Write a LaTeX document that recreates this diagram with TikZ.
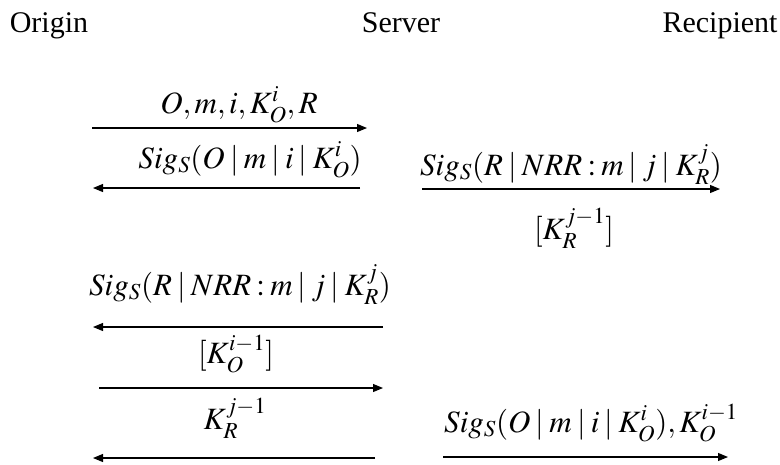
\documentclass[tikz,border=0pt]{standalone}
\usepackage{mathptmx}
\usepackage[no-math]{fontspec}
\setmainfont{Liberation Serif}
\usetikzlibrary{arrows.meta}
\newcommand{\vb}{\mkern3mu|\mkern3mu}
\newcommand{\cln}{\mkern3mu{:}\mkern3mu}
\tikzset{
  lbl/.style={font=\fontsize{31}{36}\selectfont, inner sep=0pt, anchor=base},
  party/.style={font=\fontsize{30}{36}\selectfont, inner sep=0pt, anchor=base},
  msg/.style={line width=1.1pt, -{Triangle[length=10pt,width=8pt]}}
}
\begin{document}
\begin{tikzpicture}[x=1pt,y=-1pt]
\useasboundingbox (0,0) rectangle (780,464);
% participants
\node[party] (org) at (49,32) {Origin};
\node[party] (srv) at (401,32) {Server};
\node[party] (rcp) at (720,32) {Recipient};
% arrow endpoints
\coordinate (a1s) at (92,128);  \coordinate (a1e) at (367,128);
\coordinate (a2s) at (360,188); \coordinate (a2e) at (93,188);
\coordinate (a3s) at (422,189); \coordinate (a3e) at (720,189);
\coordinate (a4s) at (383,327); \coordinate (a4e) at (93,327);
\coordinate (a5s) at (99,388);  \coordinate (a5e) at (383,388);
\coordinate (a6s) at (375,458); \coordinate (a6e) at (93,458);
\coordinate (a7s) at (443,457); \coordinate (a7e) at (728,457);
% arrows
\draw[msg] (a1s) -- (a1e);
\draw[msg] (a2s) -- (a2e);
\draw[msg] (a3s) -- (a3e);
\draw[msg] (a4s) -- (a4e);
\draw[msg] (a5s) -- (a5e);
\draw[msg] (a6s) -- (a6e);
\draw[msg] (a7s) -- (a7e);
% labels
\node[lbl] (l1) at (239,113) {$O,m,i,K_O^i,R$};
\node[lbl] (l2) at (250,168) {$Sig_S(O\vb m\vb i\vb K_O^i)$};
\node[lbl] (l3) at (571,175) {$Sig_S(R\vb NRR\cln m\vb j\vb K_R^j)$};
\node[lbl] (l4) at (574,239) {$[K_R^{j-1}]$};
\node[lbl] (l5) at (240,295) {$Sig_S(R\vb NRR\cln m\vb j\vb K_R^j)$};
\node[lbl] (l6) at (236,363) {$[K_O^{i-1}]$};
\node[lbl] (l7) at (235,429) {$K_R^{j-1}$};
\node[lbl] (l8) at (591,432) {$Sig_S(O\vb m\vb i\vb K_O^i),K_O^{i-1}$};
\end{tikzpicture}
\end{document}
